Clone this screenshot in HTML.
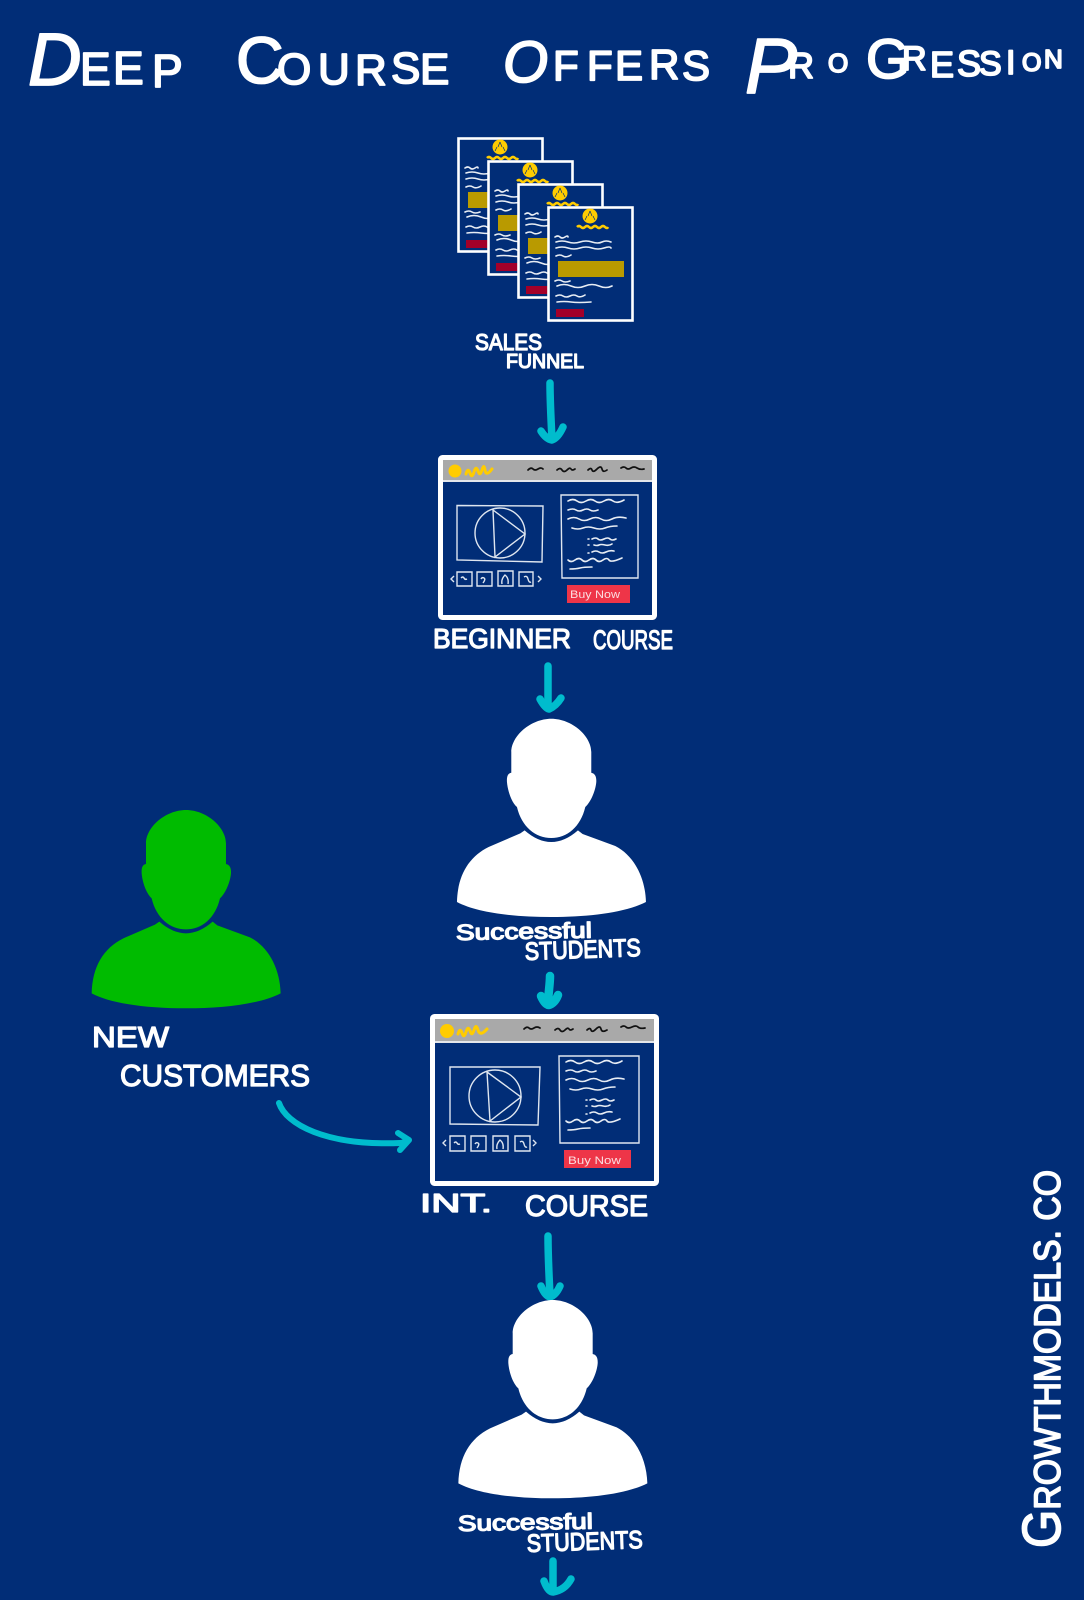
<!DOCTYPE html>
<html lang="en">
<head>
<meta charset="utf-8">
<title>Deep Course Offers Progression</title>
<style>
html,body{margin:0;padding:0;background:#012d77;}
svg{display:block;}
.h{font-family:"Liberation Sans Narrow","Liberation Sans",sans-serif;fill:#fff;stroke:#fff;stroke-width:1.3;stroke-linejoin:round;}
.arrow{fill:none;stroke:#00bccd;stroke-width:7.5;stroke-linecap:round;stroke-linejoin:round;}
.sq{fill:none;stroke:#e8edf4;stroke-width:1.6;stroke-linecap:round;}
.th{fill:none;stroke:#dfe6f0;stroke-width:1.4;}
.nav{fill:none;stroke:#111;stroke-width:1.7;stroke-linecap:round;}
.ys{fill:none;stroke:#ffcc00;stroke-width:3;stroke-linecap:round;}
.buy{font-family:"Liberation Sans",sans-serif;fill:#fbdde0;font-size:11px;}
</style>
</head>
<body>
<svg width="1084" height="1600" viewBox="0 0 1084 1600" xmlns="http://www.w3.org/2000/svg">
<defs>
  <g id="person-shape">
    <path d="M258 222V160C258 112 316 60 378 60C440 60 498 112 498 160V222C508 224 514 232 513 250C511 275 497 310 480 325C466 385 425 418 378 418C331 418 289 385 275 325C258 310 247 275 245 250C244 232 248 224 258 222Z"/>
    <path d="M298 395Q378 465 458 395L472 406L570 442C625 470 660 535 662 610C600 642 490 655 378 655C266 655 155 642 95 610C97 530 130 475 190 445L285 404Z"/>
  </g>
  <g id="card">
    <rect x="1.5" y="1.5" width="84" height="113" fill="#012d77" stroke="#fff" stroke-width="2.6"/>
    <circle cx="43" cy="10" r="7.5" fill="#ffcc00"/>
    <path d="M43 5l-2 5M43 5l2 5M40 10l-2 4M46 10l2 4" stroke="#012d77" stroke-width=".7" fill="none"/>
    <path d="M30 21q2-2 4 0t4 0 4 0 4 0 4 0 4 0 4 0 3 0" fill="none" stroke="#ffcc00" stroke-width="2.6"/>
    <path class="sq" d="M8 31q3-2 5 0t5 0 3 0M9 36q6-2 12 0t12 0 12 0 10 0 9 0M9 42q6-2 12 0t12 0 12 0 12 0 7 0M9 50q4-2 7 0t8-1M8 75q4-2 7 0t8 0M10 80q7-3 14 0t14 0 14 0 13 0M9 90q4-2 7 0t7 0 7 0 8-1M10 96q7-1 14 0t20 0"/>
    <rect x="11" y="55" width="66" height="16" fill="#b99a00"/>
    <rect x="9" y="103" width="28" height="8" fill="#a30029"/>
  </g>
  <g id="copy">
    <path class="sq" d="M568 501q5-3 9 0t9 0 9 0 9 0 9 0 11-1M568 510q5-2 8 0t7 0 7 0 8 0M568 519q6-3 11 0t11 0 11 0 11 0 14-1M572 528q6 2 11 0t11 0 11 0 12-2"/>
    <path class="sq" d="M588 539h1M588 545h1M588 553h1M592 539q4-2 6 0t6 0 6 0 6 0M594 545q3 1 5 0t6 0 7-1M592 552q4-2 7 0t7 0 8-1M568 560q3 3 7 0t7 0 7 0 7 0 7 0 6 0 13-2M570 569q6 0 10-1t12-1"/>
  </g>
</defs>

<rect width="1084" height="1600" fill="#012d77"/>

<!-- Title -->
<text class="h" style="stroke-width:1.8"><tspan x="28" y="85" font-size="74" font-style="italic">D</tspan><tspan font-size="46" x="80 113 152" y="85 84 87">EEP</tspan></text>
<text class="h" style="stroke-width:1.8"><tspan x="236" y="83" font-size="66">C</tspan><tspan font-size="44" x="277 318 355 391 420" y="84 84 85 83 84">OURSE</tspan></text>
<text class="h" style="stroke-width:1.8"><tspan x="503" y="82" font-size="58" font-style="italic">O</tspan><tspan font-size="42" x="553 587 615 649 682" y="80 80 80 79 80">FFERS</tspan></text>
<text class="h" style="stroke-width:1.8"><tspan x="745" y="93" font-size="78" font-style="italic">P</tspan><tspan x="788" y="78" font-size="36">R</tspan><tspan x="828" y="72" font-size="26">O</tspan><tspan x="866" y="78" font-size="56">G</tspan><tspan x="902" y="70" font-size="34">R</tspan><tspan x="930" y="77" font-size="36">E</tspan><tspan x="957" y="76" font-size="36">S</tspan><tspan x="979" y="75" font-size="34">S</tspan><tspan x="1006" y="74" font-size="34">I</tspan><tspan x="1022" y="71" font-size="25">O</tspan><tspan x="1044" y="68" font-size="26">N</tspan></text>

<!-- Sales funnel pages -->
<use href="#card" x="457" y="137"/>
<use href="#card" x="487" y="160"/>
<use href="#card" x="517" y="183"/>
<use href="#card" x="547" y="206"/>
<text class="h" x="475" y="350" font-size="23" textLength="67" lengthAdjust="spacingAndGlyphs">SALES</text>
<text class="h" x="506" y="368" font-size="20" textLength="78" lengthAdjust="spacingAndGlyphs">FUNNEL</text>

<!-- Arrow 1 -->
<path class="arrow" d="M550 383C550 400 551 420 552 439M541 431Q546 439 552 440Q558 438 563 427"/>

<!-- Beginner window -->
<rect x="440.5" y="457.5" width="214" height="160" rx="2" fill="#012d77" stroke="#fff" stroke-width="5"/>
<rect x="443" y="460" width="209" height="20" fill="#a9a9a9"/>
<rect x="443" y="480" width="209" height="2" fill="#e4e6ea"/>
<circle cx="455" cy="471" r="6.5" fill="#ffcc00"/>
<path class="ys" d="M466 474q2-7 4-1t4-1 4-1 4-1 3 0 7-1"/>
<path class="nav" d="M528 470q3-3 5-1t5 0 5 0M557 470q3-3 5 0t5 0 4-1 4 0M588 470q3-3 4 0t5-1 5 0 5 1M621 468q3-2 5 0t5 0 6 0 7 1"/>
<path class="th" d="M457 505.500L543 506L542 562L457 560Z"/>
<circle class="th" cx="500" cy="533" r="25"/>
<path class="th" d="M493 510L525 534L495 557Z"/>
<path class="th" d="M457 572h15v14h-15zM477 572h15v14h-15zM498 571h15v15h-15zM519 572h14v14h-14z"/>
<path class="th" d="M461 578q2-2 3 0t3 1M483 583q3-4 1-5t-3 1M502 584q-1-5 3-9q4 3 3 9M524 577q3-2 4 2t3 3M454 576l-3 3 3 3M538 576l3 3-3 3"/>
<path class="th" d="M561 495H638L638 578H562Z"/>
<use href="#copy"/>
<rect x="567" y="585" width="63" height="18" fill="#ee3548"/>
<text class="buy" x="570" y="598" textLength="50" lengthAdjust="spacingAndGlyphs">Buy Now</text>
<text class="h" x="433" y="648" font-size="28" textLength="138" lengthAdjust="spacingAndGlyphs">BEGINNER</text>
<text class="h" x="593" y="649" font-size="27" textLength="80" lengthAdjust="spacingAndGlyphs">COURSE</text>

<!-- Arrow 2 -->
<path class="arrow" d="M548 666C548 680 548 695 548 707M540 699Q545 708 549 709Q556 706 561 698"/>

<!-- Person 1 -->
<use href="#person-shape" transform="translate(425.3 698.7) scale(.3333)" fill="#fff"/>
<text class="h" x="456" y="940" font-size="22" textLength="136" lengthAdjust="spacingAndGlyphs" transform="rotate(-1 456 940)">Successful</text>
<text class="h" x="525" y="960" font-size="25" textLength="116" lengthAdjust="spacingAndGlyphs" transform="rotate(-2 525 960)">STUDENTS</text>

<!-- Arrow 3 -->
<path class="arrow" style="stroke-width:8.500" d="M550 976C550 985 548 995 548 1005M541 996Q545 1005 549 1005Q555 1003 558 995"/>

<!-- Green person -->
<use href="#person-shape" transform="translate(60 790) scale(.3333)" fill="#00bb00"/>
<text class="h" x="92" y="1047" font-size="29" textLength="77" lengthAdjust="spacingAndGlyphs">NEW</text>
<text class="h" x="120" y="1086" font-size="31" textLength="190" lengthAdjust="spacingAndGlyphs">CUSTOMERS</text>

<!-- Curved arrow -->
<path class="arrow" style="stroke-width:6" d="M279 1103C286 1124 325 1146 400 1143Q404 1143 409 1140M398 1133L409 1140L400 1150"/>

<!-- Intermediate window -->
<rect x="432.500" y="1016.500" width="224" height="167" rx="2" fill="#012d77" stroke="#fff" stroke-width="5"/>
<rect x="435" y="1019" width="219" height="22" fill="#a9a9a9"/>
<rect x="435" y="1041" width="219" height="2" fill="#e4e6ea"/>
<circle cx="447" cy="1031" r="7" fill="#ffcc00"/>
<path class="ys" d="M458 1034q2-7 4-1t4-1 4-1 4-1 4 0 9-1"/>
<path class="nav" d="M524 1029q3-3 5-1t5 0 6 0M555 1030q3-3 5 0t5 0 4-1 4 0M587 1030q3-3 4 0t5-1 5 0 6 1M621 1027q3-2 5 0t6 0 6 0 7 1"/>
<path class="th" d="M450 1067L540 1067L538 1125L450 1124Z"/>
<circle class="th" cx="495" cy="1096" r="26"/>
<path class="th" d="M487 1072L521 1097L490 1121Z"/>
<path class="th" d="M450 1136h15v15h-15zM471 1136h15v15h-15zM493 1136h15v15h-15zM515 1136h15v15h-15z"/>
<path class="th" d="M454 1143q2-2 3 0t3 1M477 1148q3-4 1-5t-3 1M497 1149q-1-5 3-9q4 3 3 9M520 1142q3-2 4 2t3 3M446 1140l-3 3 3 3M533 1140l3 3-3 3"/>
<path class="th" d="M559 1056H639L639 1143L560 1143Z"/>
<use href="#copy" transform="translate(-2 561)"/>
<rect x="564" y="1150" width="67" height="18" fill="#ee3548"/>
<text class="buy" x="568" y="1164" textLength="53" lengthAdjust="spacingAndGlyphs">Buy Now</text>
<text class="h" x="420" y="1212" font-size="26" textLength="72" lengthAdjust="spacingAndGlyphs">INT.</text>
<text class="h" x="525" y="1216" font-size="30" textLength="123" lengthAdjust="spacingAndGlyphs">COURSE</text>

<!-- Arrow 4 -->
<path class="arrow" d="M548 1236C548 1256 549 1276 550 1295M541 1286Q545 1296 550 1297Q556 1295 560 1286"/>

<!-- Person 2 -->
<use href="#person-shape" transform="translate(426.7 1280) scale(.3333)" fill="#fff"/>
<text class="h" x="458" y="1531" font-size="22" textLength="135" lengthAdjust="spacingAndGlyphs" transform="rotate(-1 458 1531)">Successful</text>
<text class="h" x="527" y="1552" font-size="25" textLength="116" lengthAdjust="spacingAndGlyphs" transform="rotate(-2 527 1552)">STUDENTS</text>

<!-- Arrow 5 -->
<path class="arrow" d="M553 1561C553 1572 553 1582 553 1591M544 1581Q548 1592 553 1592Q565 1590 571 1579"/>

<!-- Signature -->
<text class="h" transform="translate(1060 1548) rotate(-90)" font-size="37" textLength="378" lengthAdjust="spacingAndGlyphs" style="stroke-width:1.6"><tspan font-size="54">G</tspan>ROWTHMODELS. CO</text>
</svg>
</body>
</html>
